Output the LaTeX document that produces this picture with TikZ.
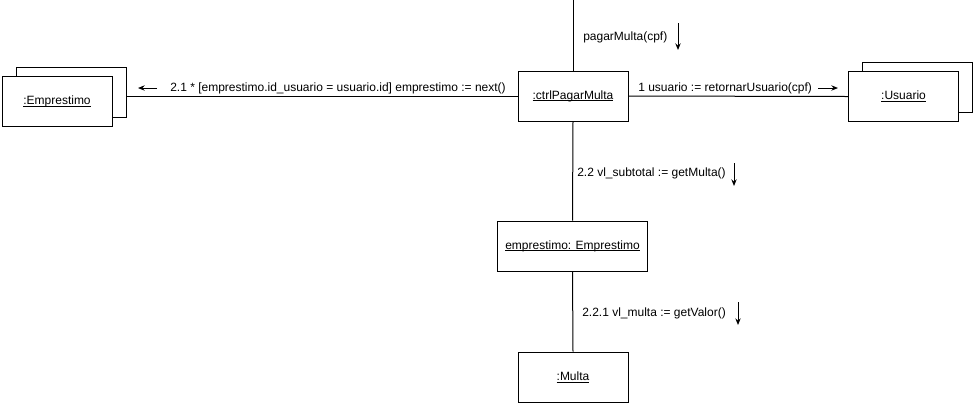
\documentclass[tikz,border=0pt]{standalone}
\usepackage{fontspec}
\setmainfont{Liberation Sans}
\usetikzlibrary{arrows.meta}

\newcommand{\objname}[1]{\setbox0\hbox{#1}\rlap{\rule[-1.6pt]{\wd0}{0.6pt}}\box0}

\tikzset{
  obj/.style={draw, fill=white, line width=0.75pt, minimum width=82.5pt, minimum height=37.5pt, inner sep=0pt},
  msg/.style={line width=0.75pt, -{Stealth[length=5pt,width=4pt]}},
  lbl/.style={inner sep=0pt, anchor=west},
  link/.style={line width=0.75pt}
}

\begin{document}
\begin{tikzpicture}[x=0.75pt, y=-0.75pt, font=\fontsize{9}{11}\selectfont]
    \useasboundingbox (0, 0) rectangle (975, 405);
    % objects
    \node [obj] (empBack) at (71, 92) {};
    \node [obj] (emp) at (57, 101.5) {\objname{:Emprestimo}};
    \node [obj] (ctrl) at (573, 96) {\objname{:ctrlPagarMulta}};
    \node [obj] (usrBack) at (917, 87) {};
    \node [obj] (usr) at (903.5, 96.5) {\objname{:Usuario}};
    \node [obj, minimum width=112.5pt] (empr) at (572.5, 246) {\objname{emprestimo: Emprestimo}};
    \node [obj] (multa) at (573, 377) {\objname{:Multa}};
    \coordinate (top) at (573, 0);
    % links
    \draw [link] (top) -- (ctrl.north);
    \draw [link] (ctrl.west) -- (ctrl.west -| empBack.east);
    \draw [link] (ctrl.east) -- (usr.west);
    \draw [link] (ctrl.south) -- (empr.north);
    \draw [link] (empr.south) -- (multa.north);
    % messages
    \node [lbl] (pagar) at (583, 37) {pagarMulta(cpf)};
    \draw [msg] (678, 23) -- (678, 50);
    \node [lbl] (m21) at (170, 88) {2.1 * [emprestimo.id\_usuario = usuario.id] emprestimo := next()};
    \draw [msg] (157, 88) -- (138, 88);
    \node [lbl] (m1) at (638, 88) {1 usuario := retornarUsuario(cpf)};
    \draw [msg] (818, 88) -- (838, 88);
    \node [lbl] (m22) at (577, 173) {2.2 vl\_subtotal := getMulta()};
    \draw [msg] (734, 163) -- (734, 186);
    \node [lbl] (m221) at (582, 313) {2.2.1 vl\_multa := getValor()};
    \draw [msg] (738, 302) -- (738, 325);
\end{tikzpicture}
\end{document}
